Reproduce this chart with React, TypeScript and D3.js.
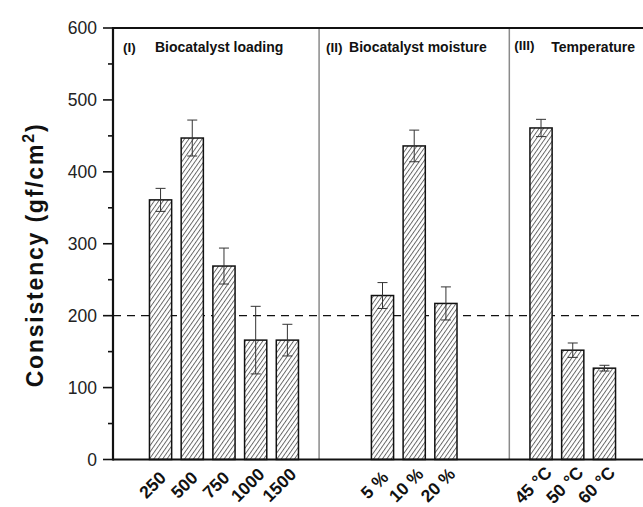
import React from "react";
import * as d3 from "d3";

const categories = ["250", "500", "750", "1000", "1500", "5 %", "10 %", "20 %", "45 °C", "50 °C", "60 °C"];
const groupOf = [0, 0, 0, 0, 0, 1, 1, 1, 2, 2, 2];
const values = [361, 447, 269, 166, 166, 228, 436, 217, 461, 152, 127];
const errors = [16, 25, 25, 47, 22, 18, 22, 23, 12, 10, 4];
const groupTags = ["(I)", "(II)", "(III)"];
const groupTitles = ["Biocatalyst loading", "Biocatalyst moisture", "Temperature"];
const yTicks = [0, 100, 200, 300, 400, 500, 600];
const yMinorTicks = [50, 150, 250, 350, 450, 550];
const threshold = 200;

const W = 643;
const H = 507;
const FONT = "'Liberation Sans', Arial, Helvetica, sans-serif";

export default function App() {
  // layout (slot units)
  const groupStartSlot = [0, 7, 12];
  const separatorSlots = [5, 11];
  const groupLeftSlot = [-1.5, 5, 11];
  const tagDx = [10, 7, 5];
  const titleDx = [42, 30, 42];
  const tagDy = [52, 52, 50];

  const x = d3.scaleLinear().domain([-1.5, 15.5]).range([113, 652]);
  const y = d3.scaleLinear().domain([0, 600]).range([459.5, 28]);
  const slotW = x(1) - x(0);
  const barW = slotW * 0.7;

  const slotOf = categories.map((_, i) => {
    const g = groupOf[i];
    const first = groupOf.indexOf(g);
    return groupStartSlot[g] + (i - first);
  });

  const left = x(-1.5);
  const right = x(15.5);
  const top = y(600);
  const bottom = y(0);

  return (
    <svg
      width={W}
      height={H}
      style={{ position: "absolute", left: 0, top: 0, background: "#fff" }}
      fontFamily={FONT}
    >
      <defs>
        <pattern
          id="hatch"
          patternUnits="userSpaceOnUse"
          width={3.6}
          height={10}
          patternTransform="rotate(35)"
        >
          <rect width={3.6} height={10} fill="#fff" />
          <line x1={0.5} y1={0} x2={0.5} y2={10} stroke="#555" strokeWidth={0.9} />
        </pattern>
      </defs>
      <rect x={0} y={0} width={W} height={H} fill="#fff" />

      {/* separators */}
      {separatorSlots.map((s) => (
        <line key={s} x1={x(s)} x2={x(s)} y1={top} y2={bottom} stroke="#8a8a8a" strokeWidth={1.5} />
      ))}

      {/* threshold dashed line */}
      <line
        x1={left}
        x2={right}
        y1={y(threshold)}
        y2={y(threshold)}
        stroke="#111"
        strokeWidth={1.4}
        strokeDasharray="8,6"
      />

      {/* bars */}
      {categories.map((c, i) => {
        const cx = x(slotOf[i]);
        return (
          <rect
            key={c}
            x={cx - barW / 2}
            y={y(values[i])}
            width={barW}
            height={bottom - y(values[i])}
            fill="url(#hatch)"
            stroke="#111"
            strokeWidth={1.5}
          />
        );
      })}

      {/* error bars */}
      {categories.map((c, i) => {
        const cx = x(slotOf[i]);
        const yt = y(values[i] + errors[i]);
        const yb = y(values[i] - errors[i]);
        return (
          <g key={"e" + c} stroke="#333" strokeWidth={1}>
            <line x1={cx} x2={cx} y1={yt} y2={yb} />
            <line x1={cx - 5} x2={cx + 5} y1={yt} y2={yt} />
            <line x1={cx - 5} x2={cx + 5} y1={yb} y2={yb} />
          </g>
        );
      })}

      {/* frame */}
      <line x1={left} x2={right} y1={top} y2={top} stroke="#111" strokeWidth={2} />
      <line x1={left} x2={right} y1={bottom} y2={bottom} stroke="#111" strokeWidth={2.2} />
      <line x1={left} x2={left} y1={top - 1} y2={bottom + 1} stroke="#111" strokeWidth={2.2} />

      {/* y ticks */}
      {yTicks.map((t) => (
        <g key={t}>
          <line x1={left - 10} x2={left} y1={y(t)} y2={y(t)} stroke="#111" strokeWidth={1.6} />
          <text
            x={left - 16}
            y={y(t)}
            textAnchor="end"
            dominantBaseline="central"
            fontSize={17.5}
            fill="#222"
          >
            {t}
          </text>
        </g>
      ))}
      {yMinorTicks.map((t) => (
        <line key={t} x1={left - 5} x2={left} y1={y(t)} y2={y(t)} stroke="#111" strokeWidth={1.6} />
      ))}

      {/* y title */}
      <text
        transform={`translate(43, 255) rotate(-90)`}
        textAnchor="middle"
        fontSize={23}
        fontWeight="bold"
        letterSpacing={1.8}
        fill="#111"
      >
        Consistency (gf/cm
        <tspan dy={-9} fontSize={16}>
          2
        </tspan>
        <tspan dy={9}>)</tspan>
      </text>

      {/* group labels */}
      {groupTags.map((tag, g) => (
        <g key={tag} fontWeight="bold" fontSize={13.5} fill="#111">
          <text x={x(groupLeftSlot[g]) + tagDx[g]} y={tagDy[g]}>
            {tag}
          </text>
          <text x={x(groupLeftSlot[g]) + titleDx[g]} y={52} fontSize={14}>
            {groupTitles[g]}
          </text>
        </g>
      ))}

      {/* x labels */}
      {categories.map((c, i) => {
        const cx = x(slotOf[i]) - 8;
        return (
          <text
            key={"l" + c}
            transform={`translate(${cx}, 485) rotate(-45)`}
            textAnchor="middle"
            dominantBaseline="central"
            fontSize={17.5}
            fontWeight="bold"
            fill="#111"
          >
            {c}
          </text>
        );
      })}
    </svg>
  );
}
